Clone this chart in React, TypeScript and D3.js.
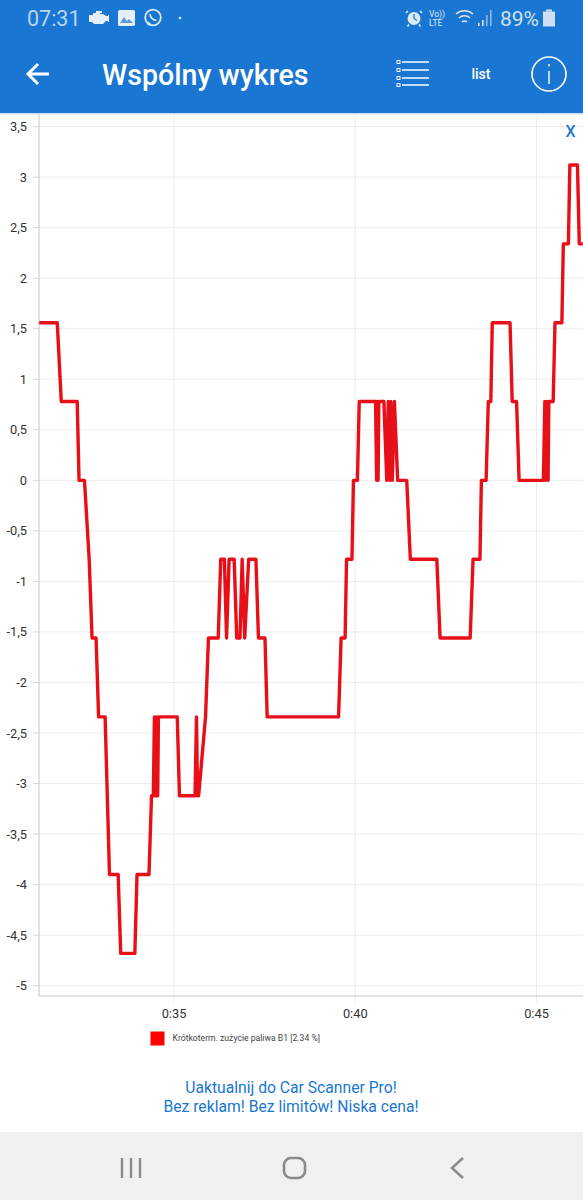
import React from "react";
import * as d3 from "d3";

const times = [31.28,31.78,31.89,32.33,32.38,32.53,32.66,32.74,32.85,32.92,33.10,33.16,33.22,33.46,33.53,33.92,33.98,34.31,34.38,34.43,34.46,34.49,34.52,34.55,34.57,35.09,35.15,35.58,35.62,35.65,35.68,35.87,35.95,36.22,36.29,36.39,36.45,36.52,36.66,36.73,36.82,36.88,36.95,37.06,37.26,37.33,37.51,37.57,39.54,39.61,39.72,39.76,39.91,39.95,40.06,40.11,40.56,40.59,40.61,40.63,40.65,40.79,40.87,40.91,40.96,40.98,41.02,41.08,41.17,41.42,41.52,42.25,42.34,43.17,43.25,43.44,43.48,43.61,43.67,43.74,43.78,44.27,44.33,44.45,44.52,45.19,45.23,45.26,45.29,45.32,45.34,45.46,45.51,45.70,45.74,45.88,45.92,46.13,46.18,46.28];
const values = [1.56,1.56,0.78,0.78,0,0,-0.78,-1.56,-1.56,-2.34,-2.34,-3.12,-3.9,-3.9,-4.68,-4.68,-3.9,-3.9,-3.12,-3.12,-2.34,-3.12,-2.34,-3.12,-2.34,-2.34,-3.12,-3.12,-2.34,-3.12,-3.12,-2.34,-1.56,-1.56,-0.78,-0.78,-1.56,-0.78,-0.78,-1.56,-1.56,-0.78,-1.56,-0.78,-0.78,-1.56,-1.56,-2.34,-2.34,-1.56,-1.56,-0.78,-0.78,0,0,0.78,0.78,0,0.78,0,0.78,0.78,0,0.78,0,0.78,0,0.78,0,0,-0.78,-0.78,-1.56,-1.56,-0.78,-0.78,0,0,0.78,0.78,1.56,1.56,0.78,0.78,0,0,0.78,0,0.78,0,0.78,0.78,1.56,1.56,2.34,2.34,3.12,3.12,2.34,2.34];
const yTicks = [3.5,3,2.5,2,1.5,1,0.5,0,-0.5,-1,-1.5,-2,-2.5,-3,-3.5,-4,-4.5,-5];
const xTicks = [35,40,45];
const legendLabel = "Krótkoterm. zużycie paliwa B1 [2.34 %]";
const promoLines = ["Uaktualnij do Car Scanner Pro!", "Bez reklam! Bez limitów! Niska cena!"];

const BLUE = "#1976d2";
const FONT = "Roboto, sans-serif";
const x = d3.scaleLinear().domain([35, 45]).range([174, 536.5]);
const y = d3.scaleLinear().domain([-5, 3.5]).range([985.7, 126.6]);
const fmtY = (v: number) => String(v).replace(".", ",");
const fmtX = (v: number) => `0:${v}`;

const series = times.map((t, i) => [t, values[i]] as [number, number]);
const linePath = d3.line<[number, number]>().x(d => x(d[0])).y(d => y(d[1]))(series) as string;

export default function App() {
  return (
    <svg width={583} height={1200} viewBox="0 0 583 1200"
      style={{ position: "absolute", left: 0, top: 0, display: "block", background: "#fff" }}>
      {/* App bar */}
      <rect x={0} y={0} width={583} height={113} fill={BLUE} />
      <rect x={0} y={113} width={583} height={1.5} fill="#cfe0f2" />
      <text x={27} y={26} fontFamily={FONT} fontSize={21.5} fill="#b9d4ef">07:31</text>
      <g fill="#e6eff9">
        <path d="M89 15 h4 v-2 h3 v-2 h6 v2 h-2 v1 h3 l3 2 h2 v-1 h1 v7 h-1 v-1 h-2 l-3 3 h-9 l-2 -2 h-3 z" />
        <rect x={118} y={10} width={17} height={16} rx={1.5} />
      </g>
      <path d="M120 23 l4 -6 l3 4 l2 -2 l4 4 z" fill={BLUE} opacity={0.7} />
      <circle cx={153} cy={17.5} r={7.8} fill="none" stroke="#dce9f7" strokeWidth={1.8} />
      <path d="M147 25.5 l1.5 -4 l2.5 2.5 z" fill="#dce9f7" />
      <path d="M150 14 q0.5 5.5 6.5 6.5" fill="none" stroke="#dce9f7" strokeWidth={1.7} />
      <circle cx={180} cy={18} r={1.3} fill="#dce9f7" />
      <circle cx={414} cy={18.5} r={6.5} fill="#dce9f7" />
      <path d="M408 11 l-2 2 M420 11 l2 2 M409 24.5 l-1.5 2 M419 24.5 l1.5 2" stroke="#dce9f7" strokeWidth={1.6} fill="none" />
      <path d="M414 14 v4.5 l3 2" fill="none" stroke={BLUE} strokeWidth={1.2} />
      <text x={429} y={17} fontFamily={FONT} fontSize={8.5} fill="#dce9f7">Vo))</text>
      <text x={429} y={26} fontFamily={FONT} fontSize={8.5} fill="#dce9f7">LTE</text>
      <path d="M456 14 a13 13 0 0 1 17 0 M459 18 a8 8 0 0 1 11 0 M462 22 a3.5 3.5 0 0 1 5 0" fill="none" stroke="#dce9f7" strokeWidth={1.5} />
      <g fill="#dce9f7">
        <rect x={478} y={23} width={1.6} height={3} />
        <rect x={482} y={20} width={1.6} height={6} />
      </g>
      <g fill="#8fb8e4">
        <rect x={486} y={15} width={1.6} height={11} />
        <rect x={490} y={10} width={1.6} height={16} />
      </g>
      <text x={500} y={26} fontFamily={FONT} fontSize={21} fill="#cfe0f2">89%</text>
      <rect x={543} y={11.5} width={12} height={15} fill="#cfe0f2" />
      <rect x={546} y={9.5} width={6} height={2} fill="#cfe0f2" />

      <path d="M49 74 H28 M38 64 L28 74 L38 84" fill="none" stroke="#fff" strokeWidth={3} />
      <text x={102} y={85} fontFamily={FONT} fontSize={28.6} fontWeight={500} fill="#fff">Wspólny wykres</text>
      <g stroke="#fff" fill="none">
        {[62, 70, 78, 85].map(yy => (
          <g key={yy}>
            <path d={`M402 ${yy} H429`} strokeWidth={1.5} />
            <rect x={397} y={yy - 1.5} width={3} height={3} strokeWidth={1} />
          </g>
        ))}
      </g>
      <text x={481} y={79} textAnchor="middle" fontFamily={FONT} fontSize={14} fontWeight={500} fill="#fff">list</text>
      <circle cx={549} cy={74} r={17} fill="none" stroke="#fff" strokeWidth={1.6} />
      <path d="M549 71 V84 M549 64 V66.5" stroke="#fff" strokeWidth={1.4} fill="none" />

      {/* Grid */}
      {yTicks.map(v => (
        <g key={v}>
          <line x1={39} x2={583} y1={y(v)} y2={y(v)} stroke="#ececec" strokeWidth={1} />
          <line x1={33} x2={39} y1={y(v)} y2={y(v)} stroke="#d6d6d6" strokeWidth={1} />
          <text x={27} y={y(v) + 4.5} textAnchor="end" fontFamily={FONT} fontSize={12.8} fill="#333">{fmtY(v)}</text>
        </g>
      ))}
      {xTicks.map(v => (
        <g key={v}>
          <line x1={x(v)} x2={x(v)} y1={114} y2={1003} stroke="#ececec" strokeWidth={1} />
          <text x={x(v)} y={1018} textAnchor="middle" fontFamily={FONT} fontSize={12.8} fill="#333">{fmtX(v)}</text>
        </g>
      ))}
      <line x1={39} x2={39} y1={114} y2={996} stroke="#c8c8c8" strokeWidth={1} />
      <line x1={39} x2={583} y1={996} y2={996} stroke="#c8c8c8" strokeWidth={1} />

      {/* Line */}
      <path d={linePath} fill="none" stroke="#e81018" strokeWidth={3.4} strokeLinejoin="round" />
      <text x={570.5} y={137} textAnchor="middle" fontFamily={FONT} fontSize={16} fontWeight={500} fill={BLUE}>X</text>

      {/* Legend */}
      <rect x={150.5} y={1031.5} width={14} height={14} fill="#f00" />
      <text x={172.5} y={1041} fontFamily={FONT} fontSize={8.65} fill="#444">{legendLabel}</text>

      {/* Promo */}
      {promoLines.map((t, i) => (
        <text key={t} x={291} y={1093 + i * 18.5} textAnchor="middle" fontFamily={FONT} fontSize={15.7} fill={BLUE}>{t}</text>
      ))}

      {/* Nav bar */}
      <rect x={0} y={1132} width={583} height={68} fill="#f0f0f0" />
      <path d="M122 1158 V1178 M131 1158 V1178 M140 1158 V1178" stroke="#8a8a8a" strokeWidth={2.4} fill="none" />
      <rect x={284} y={1158} width={21} height={20} rx={7} fill="none" stroke="#8a8a8a" strokeWidth={2.6} />
      <path d="M463 1158 L452 1168 L463 1178" fill="none" stroke="#8a8a8a" strokeWidth={2.6} />
    </svg>
  );
}
